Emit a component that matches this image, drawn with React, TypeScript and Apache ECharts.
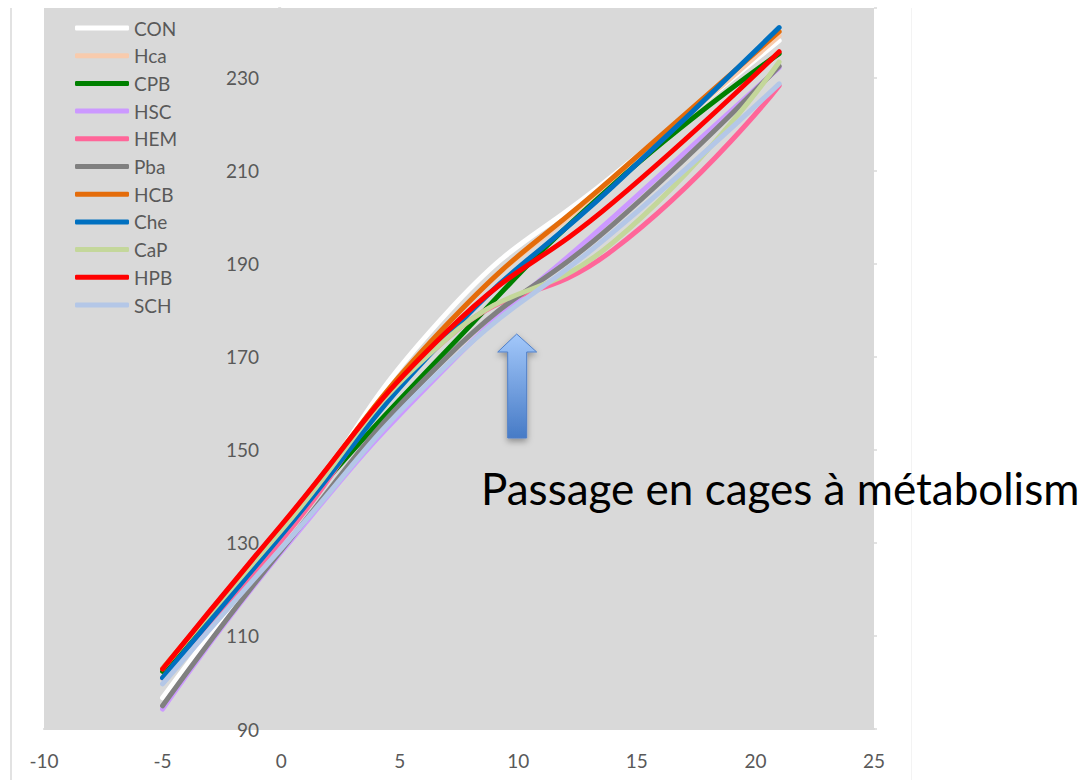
import React, { useEffect, useRef } from "react";
import * as echarts from "echarts";

const DAYS = [-5, 0, 7, 14, 21];
const SERIES_NAMES = ["CON", "Hca", "CPB", "HSC", "HEM", "Pba", "HCB", "Che", "CaP", "HPB", "SCH"];
const CON = [96.7, 131, 179.5, 209, 238];
const Hca = [102.5, 133, 177, 208, 239];
const CPB = [102.4, 132.5, 171.5, 207, 235.2];
const HSC = [94.3, 128, 168, 200, 232.2];
const HEM = [101, 130.5, 174, 193, 228.3];
const Pba = [95, 128.4, 170, 198.5, 232.5];
const HCB = [103, 133.5, 177, 208.6, 239.9];
const Che = [101, 131.6, 174.5, 206.7, 240.8];
const CaP = [103, 132.7, 174, 194.6, 233.4];
const HPB = [102.9, 133.8, 175.5, 203.2, 235.6];
const SCH = [99.7, 128.8, 168.3, 196.8, 228.7];
const VALUES = [CON, Hca, CPB, HSC, HEM, Pba, HCB, Che, CaP, HPB, SCH];
const COLORS = ["#FFFFFF", "#F8CBAD", "#008000", "#CC99FF", "#FF6699", "#808080", "#E46C0A", "#0070C0", "#C4D79B", "#FF0000", "#B4C7E7"];
const X_TICKS = { min: -10, max: 25, interval: 5 };
const Y_TICKS = { min: 90, max: 245, interval: 20 };
const ANNOTATION = "Passage en cages à métabolism";

const FONT = "Lato, 'Open Sans', sans-serif";
const TXT = "#595959";

export default function App() {
  const ref = useRef<HTMLDivElement>(null);
  useEffect(() => {
    if (!ref.current) return;
    const chart = echarts.init(ref.current, undefined, { renderer: "svg" });
    const series = SERIES_NAMES.map((name, i) => ({
      name,
      type: "line",
      data: DAYS.map((d, j) => [d, VALUES[i][j]]),
      smooth: 0.5,
      showSymbol: false,
      symbol: "none",
      lineStyle: { width: 5, color: COLORS[i], cap: "round", join: "round" },
      itemStyle: { color: COLORS[i] },
      z: 2 + i,
    }));
    const tickAxis = (pos: string) => ({
      type: "value",
      position: pos,
      min: Y_TICKS.min,
      max: Y_TICKS.max,
      interval: Y_TICKS.interval,
      axisLine: { show: false },
      axisLabel: { show: false },
      splitLine: { show: false },
      axisTick: { show: true, length: 3, lineStyle: { color: "#D9D9D9", width: 1.5 } },
    });
    chart.setOption({
      animation: false,
      textStyle: { fontFamily: FONT },
      grid: {
        left: 44, top: 8, width: 830, height: 721, show: true, backgroundColor: "#D9D9D9", borderWidth: 0,
        containLabel: false, outerBoundsMode: "none",
      },
      legend: {
        data: SERIES_NAMES,
        orient: "vertical",
        left: 70,
        top: 13,
        itemWidth: 54,
        itemHeight: 5,
        itemGap: 7.7,
        icon: "roundRect",
        textStyle: { fontFamily: FONT, fontSize: 19, color: TXT, lineHeight: 20, padding: [0, 0, 0, 0] },
      },
      xAxis: {
        type: "value",
        min: X_TICKS.min,
        max: X_TICKS.max,
        interval: X_TICKS.interval,
        axisLine: { show: true, onZero: false, lineStyle: { color: "#D9D9D9", width: 2 } },
        axisTick: { show: false },
        splitLine: { show: false },
        axisLabel: { color: TXT, fontSize: 19, fontFamily: FONT, margin: 22 },
      },
      yAxis: [
        {
          type: "value",
          position: "left",
          offset: -237,
          min: Y_TICKS.min,
          max: Y_TICKS.max,
          interval: Y_TICKS.interval,
          axisLine: { show: false, onZero: false },
          axisTick: { show: false },
          splitLine: { show: false },
          axisLabel: { color: TXT, fontSize: 19, fontFamily: FONT, margin: 22, showMaxLabel: false },
        },
        tickAxis("left"),
        tickAxis("right"),
      ],
      series,
      graphic: [
        { type: "line", shape: { x1: 11, y1: 8, x2: 11, y2: 780 }, style: { stroke: "#D9D9D9", lineWidth: 1.5 }, silent: true },
        { type: "line", shape: { x1: 911.5, y1: 8, x2: 911.5, y2: 780 }, style: { stroke: "#F3F3F3", lineWidth: 1 }, silent: true },
        {
          type: "polygon",
          shape: {
            points: [
              [516.7, 334], [536.7, 352], [526.7, 352], [526.7, 438], [507.7, 438], [507.7, 352], [497.7, 352],
            ],
          },
          style: {
            fill: new echarts.graphic.LinearGradient(0, 0, 0, 1, [
              { offset: 0, color: "#A3C8FA" },
              { offset: 1, color: "#477BC6" },
            ]),
            stroke: "#4F7FC8",
            lineWidth: 1,
            shadowBlur: 6,
            shadowOffsetY: 3,
            shadowColor: "rgba(0,0,0,0.35)",
          },
          z: 100,
        },
        {
          type: "text",
          left: 481,
          top: 466,
          style: { text: ANNOTATION, fontSize: 44, fontFamily: FONT, fill: "#000000" },
          z: 100,
        },
      ],
    });
    return () => chart.dispose();
  }, []);
  return <div ref={ref} style={{ position: "absolute", left: 0, top: 0, width: 1083, height: 780 }} />;
}
